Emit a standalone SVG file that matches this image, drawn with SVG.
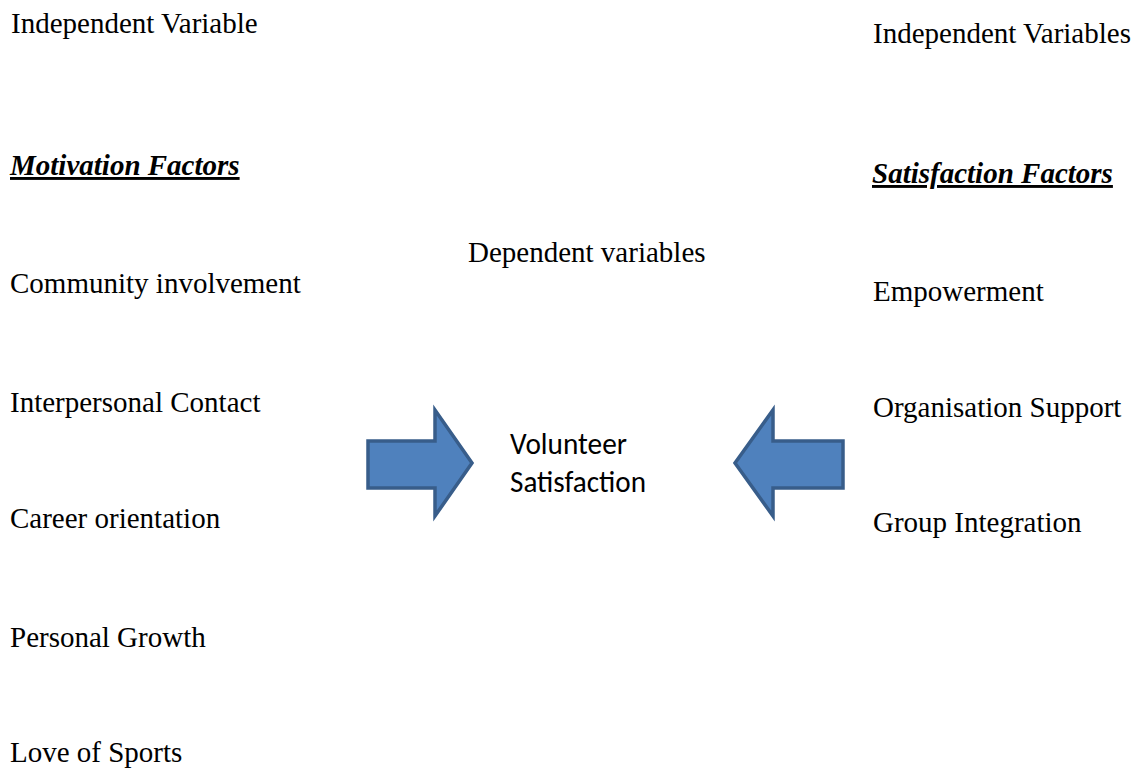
<svg xmlns="http://www.w3.org/2000/svg" width="1142" height="771" viewBox="0 0 1142 771">
<style>
.t{font-family:"Liberation Serif","Times New Roman",serif;font-size:29px;fill:#000}
.h{font-family:"Liberation Serif","Times New Roman",serif;font-size:29px;font-weight:bold;font-style:italic;text-decoration:underline;fill:#000}
.c{font-family:Carlito,Calibri,"Liberation Sans",sans-serif;font-size:31px;fill:#000}
.arr{fill:#4F81BD;stroke:#385D8A;stroke-width:3.5;stroke-linejoin:miter}
</style>
<rect width="1142" height="771" fill="#fff"/>
<g id="left-column">
<text class="t" x="11" y="33">Independent Variable</text>
<text class="h" x="10" y="175">Motivation Factors</text>
<text class="t" x="10" y="293">Community involvement</text>
<text class="t" x="10" y="412">Interpersonal Contact</text>
<text class="t" x="10" y="528">Career orientation</text>
<text class="t" x="10" y="647">Personal Growth</text>
<text class="t" x="10" y="762">Love of Sports</text>
</g>
<g id="right-column">
<text class="t" x="873" y="43">Independent Variables</text>
<text class="h" x="872" y="183">Satisfaction Factors</text>
<text class="t" x="873" y="301">Empowerment</text>
<text class="t" x="873" y="417">Organisation Support</text>
<text class="t" x="873" y="532">Group Integration</text>
</g>
<g id="dependent">
<text class="t" x="468" y="262">Dependent variables</text>
</g>
<g id="volunteer-satisfaction">
<text class="c" x="510" y="454" textLength="117" lengthAdjust="spacingAndGlyphs">Volunteer</text>
<text class="c" x="510" y="492" textLength="136" lengthAdjust="spacingAndGlyphs">Satisfaction</text>
</g>
<g id="connectors">
<polygon class="arr" points="368,441 435,441 435,410 472,463 435,516 435,488 368,488"/>
<polygon class="arr" points="843,441 773,441 773,410 735,463 773,516 773,488 843,488"/>
</g>
</svg>
